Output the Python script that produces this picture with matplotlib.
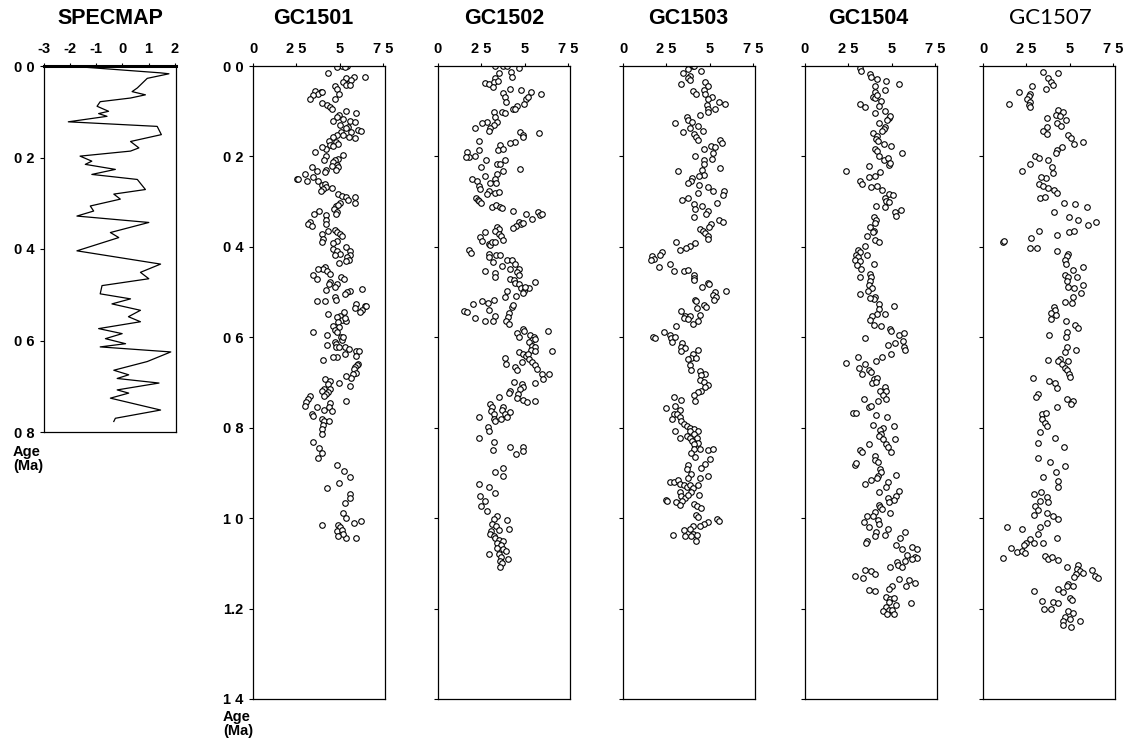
import numpy as np
import matplotlib
matplotlib.use("Agg")
import matplotlib.pyplot as plt

plt.rcParams['font.family'] = ['Liberation Sans', 'DejaVu Sans']
plt.rcParams['font.weight'] = 'bold'

# ---- SPECMAP stack (age Ma, d18O normalised) ----
spec_age = [0.003, 0.015, 0.017, 0.027, 0.048, 0.056, 0.063, 0.070, 0.078, 0.088,
            0.099, 0.104, 0.110, 0.122, 0.132, 0.150, 0.165, 0.179, 0.186, 0.197,
            0.208, 0.215, 0.226, 0.237, 0.241, 0.248, 0.270, 0.280, 0.291, 0.306,
            0.317, 0.328, 0.342, 0.364, 0.375, 0.404, 0.433, 0.451, 0.465, 0.480,
            0.498, 0.509, 0.520, 0.534, 0.548, 0.559, 0.574, 0.585, 0.596, 0.607,
            0.614, 0.625, 0.646, 0.665, 0.675, 0.683, 0.693, 0.708, 0.715, 0.726,
            0.752, 0.770, 0.777]
spec_val = [-1.36, 1.46, 1.78, 0.95, 0.57, 0.37, 0.88, 0.31, -0.85, -0.97,
            -0.53, -0.91, -0.59, -2.07, 1.33, 1.49, 0.31, 0.63, 0.31, -1.62,
            -1.17, -1.42, -0.27, -1.17, -0.53, 0.57, 0.88, -0.33, -0.08, -1.23,
            -1.10, -1.74, 1.01, -0.46, -0.14, -1.74, 1.46, 0.69, 1.01, -0.78,
            -0.85, 0.31, -0.40, 0.69, 0.23, 0.69, -0.91, -0.01, -0.65, 0.12,
            -0.85, 1.85, 0.95, -0.33, 0.24, -0.20, 1.40, -0.20, 0.24, -0.46,
            1.46, -0.27, -0.33]

# ---- GC1501 ----
gc1501_age = [0.000, 0.001, 0.003, 0.003, 0.016, 0.027, 0.024, 0.024, 0.035, 0.037,
              0.031, 0.042, 0.042, 0.044, 0.050, 0.061, 0.055, 0.057, 0.062, 0.064,
              0.074, 0.057, 0.072, 0.081, 0.086, 0.090, 0.094, 0.099, 0.109, 0.105,
              0.112, 0.118, 0.122, 0.121, 0.123, 0.131, 0.134, 0.142, 0.138, 0.143,
              0.146, 0.146, 0.153, 0.153, 0.158, 0.160, 0.157, 0.166, 0.168, 0.175,
              0.183, 0.173, 0.177, 0.180, 0.191, 0.200, 0.207, 0.197, 0.205, 0.208,
              0.212, 0.219, 0.223, 0.222, 0.231, 0.229, 0.223, 0.233, 0.239, 0.245,
              0.249, 0.249, 0.254, 0.234, 0.254, 0.264, 0.262, 0.268, 0.269, 0.273,
              0.276, 0.284, 0.287, 0.290, 0.297, 0.290, 0.304, 0.303, 0.310, 0.308,
              0.316, 0.323, 0.327, 0.321, 0.328, 0.330, 0.344, 0.349, 0.340, 0.354,
              0.349, 0.362, 0.365, 0.371, 0.367, 0.371, 0.377, 0.382, 0.386, 0.389,
              0.392, 0.404, 0.409, 0.415, 0.417, 0.401, 0.409, 0.418, 0.423, 0.429,
              0.432, 0.435, 0.445, 0.449, 0.449, 0.454, 0.460, 0.463, 0.471, 0.466,
              0.471, 0.478, 0.482, 0.483, 0.489, 0.495, 0.493, 0.498, 0.500, 0.504,
              0.520, 0.519, 0.511, 0.517, 0.526, 0.531, 0.530, 0.535, 0.539, 0.545,
              0.548, 0.543, 0.552, 0.556, 0.562, 0.563, 0.557, 0.567, 0.574, 0.578,
              0.584, 0.589, 0.594, 0.600, 0.611, 0.607, 0.615, 0.600, 0.589, 0.616,
              0.622, 0.621, 0.622, 0.626, 0.630, 0.631, 0.641, 0.638, 0.643, 0.644,
              0.650, 0.658, 0.661, 0.665, 0.670, 0.678, 0.681, 0.689, 0.685, 0.692,
              0.696, 0.704, 0.700, 0.707, 0.715, 0.718, 0.715, 0.722, 0.726, 0.729,
              0.729, 0.737, 0.744, 0.752, 0.769, 0.774, 0.755, 0.761, 0.746, 0.755,
              0.764, 0.742, 0.780, 0.785, 0.786, 0.794, 0.803, 0.814, 0.831, 0.844,
              0.855, 0.868, 0.882, 0.896, 0.909, 0.922, 0.933, 0.947, 0.955, 0.966,
              0.988, 0.999, 1.010, 1.007, 1.015, 1.015, 1.020, 1.029, 1.027, 1.043,
              1.036, 1.043, 1.040]
gc1501_val = [5.44, 5.10, 4.81, 5.29, 4.29, 5.38, 5.82, 6.44, 5.19, 5.54,
              5.67, 5.38, 5.57, 4.71, 4.81, 4.94, 3.56, 3.89, 3.75, 3.47,
              3.28, 4.00, 4.71, 3.95, 4.27, 4.46, 4.52, 5.38, 4.96, 5.92,
              4.85, 5.19, 4.62, 5.57, 5.86, 5.00, 5.48, 6.05, 5.38, 6.19,
              5.67, 5.04, 5.19, 4.85, 5.54, 5.88, 4.62, 4.39, 4.77, 4.43,
              4.23, 4.90, 4.62, 3.95, 3.56, 4.20, 4.08, 5.19, 4.90, 4.71,
              4.58, 4.81, 4.90, 4.52, 4.77, 4.23, 3.41, 3.66, 2.99, 3.47,
              2.51, 2.61, 3.12, 4.14, 3.75, 3.95, 4.14, 4.23, 4.52, 4.04,
              3.89, 4.90, 5.10, 5.38, 5.48, 5.88, 5.88, 5.00, 4.77, 4.90,
              4.66, 4.81, 4.77, 3.81, 3.51, 4.23, 3.28, 3.14, 4.20, 3.41,
              4.20, 4.71, 4.33, 4.00, 4.85, 5.00, 5.10, 4.04, 4.81, 4.00,
              4.62, 4.58, 4.81, 5.00, 4.71, 5.38, 5.57, 5.57, 5.42, 5.54,
              5.34, 4.96, 4.14, 4.04, 3.75, 4.27, 4.43, 3.43, 3.66, 5.04,
              5.23, 4.43, 4.39, 4.85, 4.71, 4.20, 6.30, 5.61, 5.42, 5.29,
              3.66, 4.14, 4.71, 4.77, 5.92, 6.44, 6.53, 5.86, 6.25, 6.15,
              4.33, 5.25, 5.00, 4.85, 5.10, 5.38, 5.29, 4.90, 4.62, 4.96,
              4.71, 4.85, 4.27, 5.04, 4.71, 5.10, 4.77, 5.19, 3.47, 4.27,
              4.77, 4.96, 5.29, 5.54, 5.92, 6.11, 5.92, 5.29, 4.85, 4.58,
              4.04, 6.05, 5.96, 5.86, 5.80, 5.92, 5.77, 5.67, 5.38, 4.14,
              4.43, 4.33, 4.96, 5.57, 4.08, 3.95, 4.46, 4.33, 4.20, 4.08,
              3.28, 3.18, 3.08, 2.99, 3.37, 3.47, 3.66, 4.08, 4.46, 4.39,
              4.52, 5.34, 3.95, 4.08, 4.39, 4.04, 4.00, 3.95, 3.47, 3.81,
              3.95, 3.75, 4.85, 5.23, 5.57, 4.96, 4.27, 5.61, 5.57, 5.29,
              5.19, 5.38, 5.80, 6.19, 4.90, 4.00, 5.00, 4.85, 5.15, 5.38,
              5.19, 5.92, 4.90]

# ---- GC1502 ----
gc1502_age = [0.000, 0.001, 0.000, 0.013, 0.005, 0.016, 0.024, 0.027, 0.037, 0.040,
              0.035, 0.047, 0.033, 0.059, 0.050, 0.053, 0.058, 0.061, 0.068, 0.079,
              0.074, 0.069, 0.083, 0.089, 0.096, 0.094, 0.101, 0.101, 0.105, 0.112,
              0.123, 0.131, 0.138, 0.123, 0.127, 0.138, 0.143, 0.146, 0.148, 0.153,
              0.158, 0.168, 0.170, 0.166, 0.175, 0.185, 0.183, 0.190, 0.201, 0.201,
              0.200, 0.186, 0.207, 0.207, 0.217, 0.216, 0.227, 0.223, 0.232, 0.239,
              0.249, 0.244, 0.249, 0.254, 0.266, 0.271, 0.259, 0.259, 0.276, 0.284,
              0.281, 0.279, 0.291, 0.296, 0.299, 0.303, 0.312, 0.308, 0.312, 0.313,
              0.321, 0.327, 0.338, 0.323, 0.330, 0.327, 0.345, 0.349, 0.347, 0.353,
              0.358, 0.355, 0.360, 0.365, 0.371, 0.375, 0.384, 0.367, 0.378, 0.386,
              0.393, 0.395, 0.389, 0.389, 0.406, 0.414, 0.415, 0.423, 0.417, 0.419,
              0.429, 0.430, 0.439, 0.449, 0.449, 0.434, 0.443, 0.456, 0.463, 0.454,
              0.458, 0.467, 0.471, 0.474, 0.480, 0.483, 0.491, 0.497, 0.503, 0.491,
              0.478, 0.489, 0.497, 0.510, 0.508, 0.526, 0.520, 0.525, 0.517, 0.539,
              0.541, 0.545, 0.557, 0.563, 0.554, 0.563, 0.534, 0.528, 0.547, 0.556,
              0.565, 0.571, 0.582, 0.585, 0.591, 0.600, 0.594, 0.599, 0.585, 0.607,
              0.604, 0.611, 0.619, 0.622, 0.631, 0.628, 0.631, 0.633, 0.637, 0.641,
              0.636, 0.646, 0.659, 0.665, 0.672, 0.655, 0.648, 0.655, 0.661, 0.670,
              0.681, 0.681, 0.692, 0.700, 0.698, 0.704, 0.709, 0.715, 0.718, 0.724,
              0.726, 0.735, 0.739, 0.744, 0.742, 0.733, 0.748, 0.755, 0.763, 0.769,
              0.755, 0.761, 0.769, 0.766, 0.776, 0.781, 0.781, 0.785, 0.777, 0.798,
              0.807, 0.822, 0.831, 0.850, 0.842, 0.842, 0.851, 0.859, 0.890, 0.899,
              0.907, 0.924, 0.931, 0.944, 0.951, 0.962, 0.973, 0.984, 0.995, 1.003,
              1.014, 1.005, 1.018, 1.027, 1.029, 1.025, 1.036, 1.040, 1.045, 1.049,
              1.055, 1.051, 1.060, 1.066, 1.069, 1.073, 1.079, 1.079, 1.086, 1.091,
              1.095, 1.099, 1.108]
gc1502_val = [3.26, 3.77, 3.97, 4.21, 4.64, 3.49, 4.25, 3.30, 2.68, 2.95,
              3.20, 3.14, 3.45, 3.77, 4.16, 4.79, 5.36, 5.94, 3.87, 3.91,
              5.06, 5.21, 4.98, 4.54, 4.29, 4.44, 3.20, 3.68, 3.87, 3.30,
              3.39, 3.20, 3.01, 2.82, 2.53, 2.15, 2.91, 4.73, 5.82, 4.87,
              4.92, 4.44, 4.16, 2.34, 3.58, 3.45, 3.77, 1.67, 1.76, 1.61,
              2.11, 2.38, 2.76, 3.87, 3.39, 3.58, 4.73, 2.45, 3.77, 3.39,
              3.30, 2.68, 1.95, 2.24, 2.34, 2.43, 3.01, 3.33, 2.91, 2.82,
              3.26, 3.52, 2.18, 2.30, 2.34, 2.49, 3.10, 3.33, 3.58, 3.68,
              4.29, 5.06, 5.40, 5.75, 5.88, 5.98, 4.64, 4.79, 4.87, 4.48,
              4.29, 3.39, 3.52, 3.30, 3.49, 3.64, 3.72, 2.68, 2.43, 2.53,
              2.95, 3.01, 3.10, 3.26, 1.80, 1.92, 2.91, 2.95, 3.33, 3.58,
              3.97, 4.25, 4.44, 4.16, 4.64, 3.14, 3.68, 4.54, 4.64, 2.68,
              3.30, 3.26, 4.16, 4.35, 4.44, 4.67, 4.79, 4.98, 4.87, 5.25,
              5.56, 5.02, 3.97, 3.83, 4.48, 1.99, 2.53, 2.87, 3.20, 2.91,
              1.48, 1.67, 2.11, 2.68, 3.30, 3.14, 4.25, 4.29, 4.10, 4.02,
              3.91, 4.06, 4.92, 4.98, 4.54, 4.64, 5.31, 5.50, 6.36, 5.40,
              5.56, 5.25, 5.44, 5.59, 6.55, 5.36, 5.56, 4.67, 4.92, 5.06,
              5.17, 3.83, 3.91, 4.44, 4.56, 4.83, 5.25, 5.40, 5.59, 5.69,
              5.98, 6.40, 6.02, 5.59, 4.35, 4.83, 4.87, 4.73, 4.16, 4.10,
              4.60, 4.54, 4.92, 5.11, 5.56, 3.49, 3.01, 3.10, 3.07, 3.20,
              3.77, 3.68, 3.87, 4.16, 3.97, 3.64, 3.20, 3.30, 2.34, 2.87,
              2.95, 2.38, 3.20, 3.14, 4.16, 4.87, 4.92, 4.48, 3.77, 3.26,
              3.77, 2.34, 2.91, 3.26, 2.43, 2.68, 2.49, 2.82, 3.39, 3.20,
              3.10, 3.97, 3.33, 3.49, 3.07, 4.06, 3.01, 3.20, 3.30, 3.49,
              3.39, 3.77, 3.64, 3.39, 3.77, 3.91, 3.49, 2.95, 3.64, 4.02,
              3.58, 3.68, 3.58]

# ---- GC1503 ----
gc1503_age = [0.000, 0.000, 0.007, 0.016, 0.010, 0.022, 0.027, 0.031, 0.040, 0.035,
              0.044, 0.052, 0.055, 0.062, 0.061, 0.068, 0.074, 0.079, 0.083, 0.086,
              0.094, 0.094, 0.101, 0.109, 0.112, 0.120, 0.123, 0.127, 0.146, 0.138,
              0.133, 0.151, 0.158, 0.164, 0.143, 0.164, 0.170, 0.177, 0.180, 0.183,
              0.192, 0.205, 0.200, 0.208, 0.216, 0.229, 0.225, 0.232, 0.240, 0.247,
              0.244, 0.254, 0.259, 0.264, 0.268, 0.277, 0.281, 0.296, 0.291, 0.277,
              0.286, 0.303, 0.306, 0.310, 0.321, 0.316, 0.328, 0.333, 0.340, 0.345,
              0.349, 0.355, 0.360, 0.365, 0.370, 0.375, 0.382, 0.390, 0.392, 0.397,
              0.402, 0.406, 0.412, 0.417, 0.421, 0.426, 0.430, 0.445, 0.439, 0.454,
              0.454, 0.451, 0.463, 0.469, 0.474, 0.480, 0.483, 0.489, 0.500, 0.506,
              0.511, 0.517, 0.497, 0.517, 0.520, 0.528, 0.532, 0.535, 0.541, 0.554,
              0.557, 0.554, 0.559, 0.550, 0.565, 0.571, 0.576, 0.600, 0.602, 0.589,
              0.594, 0.602, 0.611, 0.599, 0.613, 0.621, 0.624, 0.631, 0.628, 0.637,
              0.645, 0.646, 0.648, 0.661, 0.673, 0.674, 0.681, 0.683, 0.695, 0.698,
              0.705, 0.710, 0.718, 0.722, 0.727, 0.742, 0.732, 0.739, 0.757, 0.752,
              0.761, 0.769, 0.770, 0.781, 0.776, 0.786, 0.807, 0.823, 0.791, 0.796,
              0.800, 0.803, 0.808, 0.808, 0.814, 0.818, 0.822, 0.823, 0.829, 0.833,
              0.837, 0.846, 0.855, 0.848, 0.850, 0.846, 0.870, 0.880, 0.888, 0.865,
              0.882, 0.892, 0.903, 0.907, 0.912, 0.911, 0.919, 0.919, 0.916, 0.924,
              0.927, 0.931, 0.927, 0.934, 0.942, 0.927, 0.942, 0.951, 0.955, 0.948,
              0.949, 0.962, 0.968, 0.973, 0.977, 0.959, 0.962, 0.964, 0.970, 0.992,
              0.998, 1.008, 1.014, 1.003, 1.007, 1.018, 1.018, 1.025, 1.027, 1.035,
              1.038, 1.040, 1.038, 1.040, 1.050]
gc1503_val = [4.02, 4.10, 3.77, 3.45, 4.48, 3.83, 3.77, 3.87, 3.35, 4.73,
              4.87, 4.64, 4.02, 4.21, 4.73, 5.11, 4.87, 5.50, 5.88, 4.83,
              4.87, 5.31, 4.87, 4.41, 3.68, 3.72, 3.97, 3.01, 3.45, 3.87,
              4.29, 4.06, 4.21, 4.29, 4.60, 5.59, 5.69, 5.06, 5.31, 4.64,
              5.21, 5.11, 4.16, 4.67, 4.64, 4.54, 5.59, 3.14, 4.67, 3.97,
              4.35, 3.91, 3.77, 4.35, 4.92, 5.21, 4.29, 3.39, 3.77, 5.79,
              5.75, 5.44, 4.06, 4.54, 4.87, 4.16, 4.79, 4.10, 5.50, 5.75,
              5.06, 4.98, 4.44, 4.60, 4.73, 4.87, 4.87, 3.07, 4.16, 3.83,
              3.64, 3.26, 2.24, 2.11, 1.67, 1.76, 1.61, 2.05, 2.68, 2.91,
              3.52, 3.77, 4.10, 4.10, 4.06, 4.87, 4.98, 4.54, 5.31, 5.21,
              5.36, 5.25, 5.94, 4.16, 4.21, 4.67, 4.79, 4.25, 3.33, 3.58,
              3.49, 3.87, 3.77, 4.44, 4.29, 4.02, 3.07, 1.72, 1.86, 2.34,
              2.68, 2.76, 2.82, 3.01, 3.39, 3.33, 3.58, 3.33, 4.29, 4.02,
              3.91, 4.21, 3.77, 3.87, 3.91, 4.44, 4.73, 4.48, 4.44, 4.64,
              4.87, 4.73, 4.48, 4.29, 4.10, 4.16, 2.91, 3.33, 2.49, 3.01,
              3.30, 2.91, 3.10, 2.82, 3.26, 3.33, 3.01, 3.26, 3.52, 3.68,
              3.87, 4.06, 3.83, 4.29, 4.10, 3.68, 3.87, 4.25, 3.97, 4.29,
              4.10, 4.06, 3.91, 4.41, 4.87, 5.17, 5.02, 4.73, 4.48, 4.16,
              3.77, 3.68, 3.91, 4.92, 4.44, 3.77, 2.68, 2.91, 3.14, 3.30,
              3.49, 3.68, 3.87, 4.02, 3.91, 4.29, 3.26, 3.33, 3.58, 3.77,
              4.35, 3.39, 4.10, 4.25, 4.48, 2.49, 2.53, 3.07, 3.30, 4.21,
              4.29, 4.87, 4.64, 5.44, 5.50, 4.41, 4.02, 3.87, 3.52, 4.02,
              4.25, 3.91, 2.87, 3.58, 4.21]

# ---- GC1504 ----
gc1504_age = [0.005, 0.012, 0.017, 0.024, 0.029, 0.033, 0.039, 0.045, 0.057, 0.052,
              0.069, 0.071, 0.065, 0.078, 0.083, 0.091, 0.088, 0.100, 0.104, 0.114,
              0.111, 0.120, 0.127, 0.135, 0.140, 0.144, 0.149, 0.155, 0.161, 0.166,
              0.172, 0.177, 0.183, 0.189, 0.198, 0.209, 0.203, 0.218, 0.215, 0.193,
              0.232, 0.222, 0.234, 0.243, 0.246, 0.254, 0.260, 0.267, 0.265, 0.275,
              0.282, 0.286, 0.291, 0.298, 0.300, 0.312, 0.309, 0.324, 0.332, 0.318,
              0.333, 0.341, 0.348, 0.355, 0.364, 0.368, 0.376, 0.385, 0.390, 0.398,
              0.406, 0.411, 0.418, 0.423, 0.428, 0.432, 0.441, 0.449, 0.418, 0.439,
              0.467, 0.461, 0.467, 0.475, 0.484, 0.492, 0.498, 0.505, 0.510, 0.516,
              0.514, 0.527, 0.538, 0.548, 0.548, 0.531, 0.553, 0.562, 0.572, 0.574,
              0.581, 0.587, 0.595, 0.591, 0.602, 0.609, 0.617, 0.612, 0.621, 0.628,
              0.638, 0.656, 0.643, 0.644, 0.652, 0.660, 0.667, 0.673, 0.677, 0.682,
              0.693, 0.690, 0.702, 0.699, 0.709, 0.718, 0.718, 0.727, 0.737, 0.737,
              0.767, 0.767, 0.755, 0.751, 0.742, 0.772, 0.776, 0.793, 0.800, 0.806,
              0.796, 0.813, 0.819, 0.824, 0.824, 0.836, 0.842, 0.853, 0.836, 0.850,
              0.853, 0.862, 0.871, 0.875, 0.882, 0.879, 0.892, 0.897, 0.907, 0.911,
              0.916, 0.905, 0.920, 0.931, 0.942, 0.924, 0.940, 0.952, 0.959, 0.956,
              0.965, 0.972, 0.976, 0.980, 0.987, 0.996, 0.996, 0.989, 1.004, 1.014,
              1.008, 1.020, 1.025, 1.031, 1.037, 1.040, 1.051, 1.054, 1.030, 1.045,
              1.060, 1.068, 1.064, 1.068, 1.086, 1.088, 1.090, 1.081, 1.094, 1.098,
              1.103, 1.109, 1.107, 1.128, 1.133, 1.114, 1.116, 1.124, 1.135, 1.137,
              1.143, 1.150, 1.150, 1.157, 1.159, 1.161, 1.174, 1.178, 1.176, 1.185,
              1.191, 1.187, 1.197, 1.206, 1.203, 1.203, 1.211, 1.211]
gc1504_val = [3.19, 3.25, 3.77, 3.82, 4.15, 4.67, 5.39, 4.05, 4.02, 4.59,
              3.90, 4.05, 4.15, 4.40, 3.19, 3.48, 4.28, 4.63, 4.05, 4.82,
              4.91, 4.72, 4.24, 4.59, 4.53, 4.44, 3.90, 4.15, 4.09, 4.21,
              4.53, 4.97, 4.05, 4.15, 4.24, 4.53, 4.78, 4.82, 4.91, 5.58,
              2.37, 3.71, 4.34, 4.02, 3.71, 3.19, 3.29, 3.82, 4.15, 4.44,
              4.86, 5.05, 4.59, 4.67, 4.82, 4.59, 4.09, 5.20, 5.24, 5.54,
              3.96, 4.09, 4.02, 3.77, 3.96, 3.90, 3.58, 4.05, 4.24, 3.48,
              3.06, 3.14, 2.91, 3.06, 2.87, 3.19, 3.00, 3.25, 3.58, 3.96,
              3.19, 3.77, 3.82, 3.77, 3.71, 3.86, 3.63, 3.19, 4.05, 3.96,
              3.77, 4.24, 4.24, 4.15, 4.59, 5.11, 3.86, 3.77, 3.96, 4.40,
              4.91, 4.97, 5.43, 5.68, 3.48, 5.62, 4.78, 5.16, 5.68, 5.77,
              4.97, 2.37, 3.06, 4.44, 4.09, 3.48, 3.10, 3.71, 3.82, 3.29,
              3.96, 4.15, 3.86, 4.09, 4.59, 4.34, 4.67, 4.47, 4.67, 3.38,
              2.75, 2.94, 3.67, 3.82, 4.21, 4.09, 4.72, 3.90, 4.47, 4.34,
              5.11, 4.40, 4.24, 4.47, 5.16, 4.67, 4.78, 4.97, 3.71, 3.19,
              3.29, 4.02, 4.05, 4.21, 2.87, 2.94, 4.34, 4.40, 4.21, 4.15,
              3.82, 5.24, 4.78, 4.67, 4.24, 3.44, 5.39, 5.24, 5.11, 4.78,
              4.86, 4.24, 4.34, 4.44, 4.05, 3.90, 3.58, 4.91, 4.21, 4.24,
              3.38, 3.71, 4.78, 4.09, 4.63, 4.02, 3.58, 3.52, 5.74, 5.49,
              5.24, 5.58, 6.16, 6.44, 6.35, 6.44, 6.16, 5.87, 5.77, 5.30,
              5.35, 5.58, 4.91, 2.87, 3.33, 3.48, 3.82, 4.02, 5.39, 5.97,
              6.31, 5.81, 5.01, 4.82, 3.71, 4.02, 4.67, 4.91, 5.11, 4.86,
              5.24, 6.12, 4.67, 4.47, 4.82, 5.01, 5.11, 4.72]

# ---- GC1507 ----
gc1507_age = [0.013, 0.015, 0.026, 0.035, 0.041, 0.050, 0.045, 0.057, 0.062, 0.067,
              0.074, 0.080, 0.086, 0.091, 0.083, 0.097, 0.102, 0.108, 0.111, 0.115,
              0.120, 0.127, 0.132, 0.135, 0.144, 0.150, 0.153, 0.160, 0.167, 0.172,
              0.179, 0.185, 0.192, 0.200, 0.203, 0.209, 0.217, 0.224, 0.233, 0.236,
              0.248, 0.246, 0.260, 0.265, 0.270, 0.275, 0.280, 0.292, 0.289, 0.304,
              0.306, 0.311, 0.324, 0.333, 0.341, 0.344, 0.352, 0.366, 0.374, 0.368,
              0.365, 0.389, 0.387, 0.381, 0.402, 0.402, 0.409, 0.415, 0.421, 0.430,
              0.437, 0.445, 0.452, 0.463, 0.467, 0.467, 0.475, 0.489, 0.484, 0.492,
              0.501, 0.510, 0.524, 0.521, 0.533, 0.540, 0.546, 0.550, 0.559, 0.565,
              0.572, 0.579, 0.595, 0.589, 0.600, 0.628, 0.621, 0.633, 0.647, 0.652,
              0.652, 0.660, 0.669, 0.673, 0.682, 0.687, 0.650, 0.690, 0.725, 0.731,
              0.696, 0.702, 0.713, 0.737, 0.742, 0.748, 0.755, 0.770, 0.767, 0.780,
              0.789, 0.796, 0.810, 0.822, 0.833, 0.842, 0.866, 0.876, 0.899, 0.885,
              0.909, 0.918, 0.931, 0.942, 0.946, 0.954, 0.963, 0.965, 0.973, 0.982,
              0.989, 0.996, 1.002, 0.994, 1.011, 1.020, 1.020, 1.025, 1.034, 1.043,
              1.046, 1.054, 1.055, 1.054, 1.060, 1.066, 1.074, 1.072, 1.077, 1.088,
              1.083, 1.090, 1.086, 1.092, 1.107, 1.103, 1.112, 1.116, 1.124, 1.122,
              1.131, 1.114, 1.128, 1.133, 1.145, 1.150, 1.150, 1.157, 1.161, 1.163,
              1.176, 1.180, 1.183, 1.186, 1.188, 1.200, 1.202, 1.206, 1.209, 1.218,
              1.227, 1.223, 1.240, 1.236, 1.227]
gc1507_val = [3.44, 4.34, 3.77, 3.90, 4.02, 3.63, 2.81, 2.10, 2.72, 2.62,
              2.52, 2.72, 2.62, 2.68, 1.47, 4.34, 4.63, 4.21, 4.44, 3.71,
              4.78, 4.24, 4.47, 3.67, 3.48, 3.71, 4.91, 5.05, 5.77, 5.24,
              4.53, 4.28, 4.21, 3.00, 3.25, 3.77, 2.68, 3.96, 2.24, 4.05,
              3.63, 3.33, 3.25, 3.44, 3.77, 4.09, 4.28, 3.29, 3.58, 4.67,
              5.30, 5.97, 4.09, 4.97, 5.49, 6.50, 6.06, 3.25, 4.28, 4.97,
              5.24, 1.15, 1.22, 2.75, 2.68, 3.10, 4.28, 4.91, 4.82, 4.72,
              4.78, 5.74, 5.20, 4.72, 4.91, 5.39, 4.82, 4.91, 5.74, 5.24,
              5.62, 5.16, 5.11, 4.72, 4.09, 4.15, 3.90, 4.21, 3.90, 4.78,
              5.30, 5.49, 3.82, 4.82, 4.78, 5.35, 4.82, 4.72, 4.44, 4.34,
              4.91, 4.53, 4.72, 4.82, 4.97, 5.01, 3.77, 2.87, 3.14, 3.06,
              3.82, 4.15, 4.24, 4.86, 5.16, 5.05, 4.24, 3.38, 3.63, 3.38,
              3.58, 3.67, 3.29, 4.15, 3.14, 4.67, 3.14, 3.86, 4.21, 4.72,
              3.48, 4.34, 4.34, 3.33, 2.91, 3.71, 3.29, 3.77, 3.00, 3.19,
              3.67, 4.05, 4.34, 2.91, 3.67, 3.29, 1.41, 2.24, 3.19, 4.28,
              2.72, 2.49, 2.91, 3.44, 2.37, 1.61, 1.95, 2.24, 2.43, 1.15,
              3.58, 3.77, 3.96, 4.34, 4.86, 5.49, 5.43, 5.58, 5.35, 5.74,
              5.24, 6.25, 6.44, 6.63, 4.91, 4.82, 5.16, 4.34, 2.91, 4.63,
              5.01, 5.11, 3.38, 4.02, 4.34, 3.52, 3.90, 4.91, 5.20, 4.72,
              4.63, 5.01, 5.05, 4.63, 5.58]

cores = ['GC1501', 'GC1502', 'GC1503', 'GC1504', 'GC1507']
core_age = [gc1501_age, gc1502_age, gc1503_age, gc1504_age, gc1507_age]
core_val = [gc1501_val, gc1502_val, gc1503_val, gc1504_val, gc1507_val]

W, H = 1132, 744
fig = plt.figure(figsize=(W / 100, H / 100), dpi=100)


def add_px_axes(left, top, right, bottom):
    return fig.add_axes([left / W, 1 - bottom / H, (right - left) / W, (bottom - top) / H])


# ---- SPECMAP panel ----
ax = add_px_axes(44, 66, 176, 432)
ax.plot(spec_val, spec_age, color='black', lw=0.9)
ax.set_xlim(-3, 2.05)
ax.set_ylim(0.8, 0)
ax.xaxis.tick_top()
ax.set_xticks([-3, -2, -1, 0, 1, 2])
ax.set_xticklabels(['-3', '-2', '-1', '0', '1', '2'])
ax.set_yticks([0, 0.2, 0.4, 0.6, 0.8])
ax.set_yticklabels(['0 0', '0 2', '0 4', '0 6', '0 8'])
ax.tick_params(axis='x', length=2, pad=5, labelsize=10.5)
ax.tick_params(axis='y', length=3, pad=4, labelsize=10.5)
for s in ax.spines.values():
    s.set_linewidth(0.9)
ax.spines['top'].set_linewidth(2.2)
fig.text(110 / W, 1 - 18 / H, 'SPECMAP', ha='center', va='center', fontsize=15.5)
fig.text(13 / W, 1 - 459 / H, 'Age\n(Ma)', ha='left', va='center', fontsize=10.5, linespacing=0.95)

# ---- core panels ----
lefts = [253, 438, 623, 805, 983]
centers = [313, 504, 688, 868, 1050]
for i, name in enumerate(cores):
    ax = add_px_axes(lefts[i], 66, lefts[i] + 132, 699)
    ax.plot(core_val[i], core_age[i], 'o', ms=4, mfc='white', mec='black', mew=0.8)
    ax.set_xlim(0, 7.6)
    ax.set_ylim(1.4, 0)
    ax.xaxis.tick_top()
    ax.set_xticks([0, 2.5, 5, 7.5])
    ax.set_xticklabels(['0', '2 5', '5', '7 5'])
    ax.set_yticks([0, 0.2, 0.4, 0.6, 0.8, 1.0, 1.2, 1.4])
    if i == 0:
        ax.set_yticklabels(['0 0', '0 2', '0 4', '0 6', '0 8', '1 0', '1.2', '1 4'])
    else:
        ax.set_yticklabels([])
    ax.tick_params(axis='x', length=2, pad=5, labelsize=10.5)
    ax.tick_params(axis='y', length=3, pad=4, labelsize=10.5)
    for s in ax.spines.values():
        s.set_linewidth(0.9)
    if name == 'GC1507':
        fig.text(centers[i] / W, 1 - 18 / H, name, ha='center', va='center',
                 fontsize=16, fontweight='normal', family=['Lato', 'DejaVu Sans'])
    else:
        fig.text(centers[i] / W, 1 - 18 / H, name, ha='center', va='center', fontsize=15.5)

fig.text(223 / W, 1 - 724 / H, 'Age\n(Ma)', ha='left', va='center', fontsize=10.5, linespacing=0.95)

fig.savefig('out.png', dpi=100)
